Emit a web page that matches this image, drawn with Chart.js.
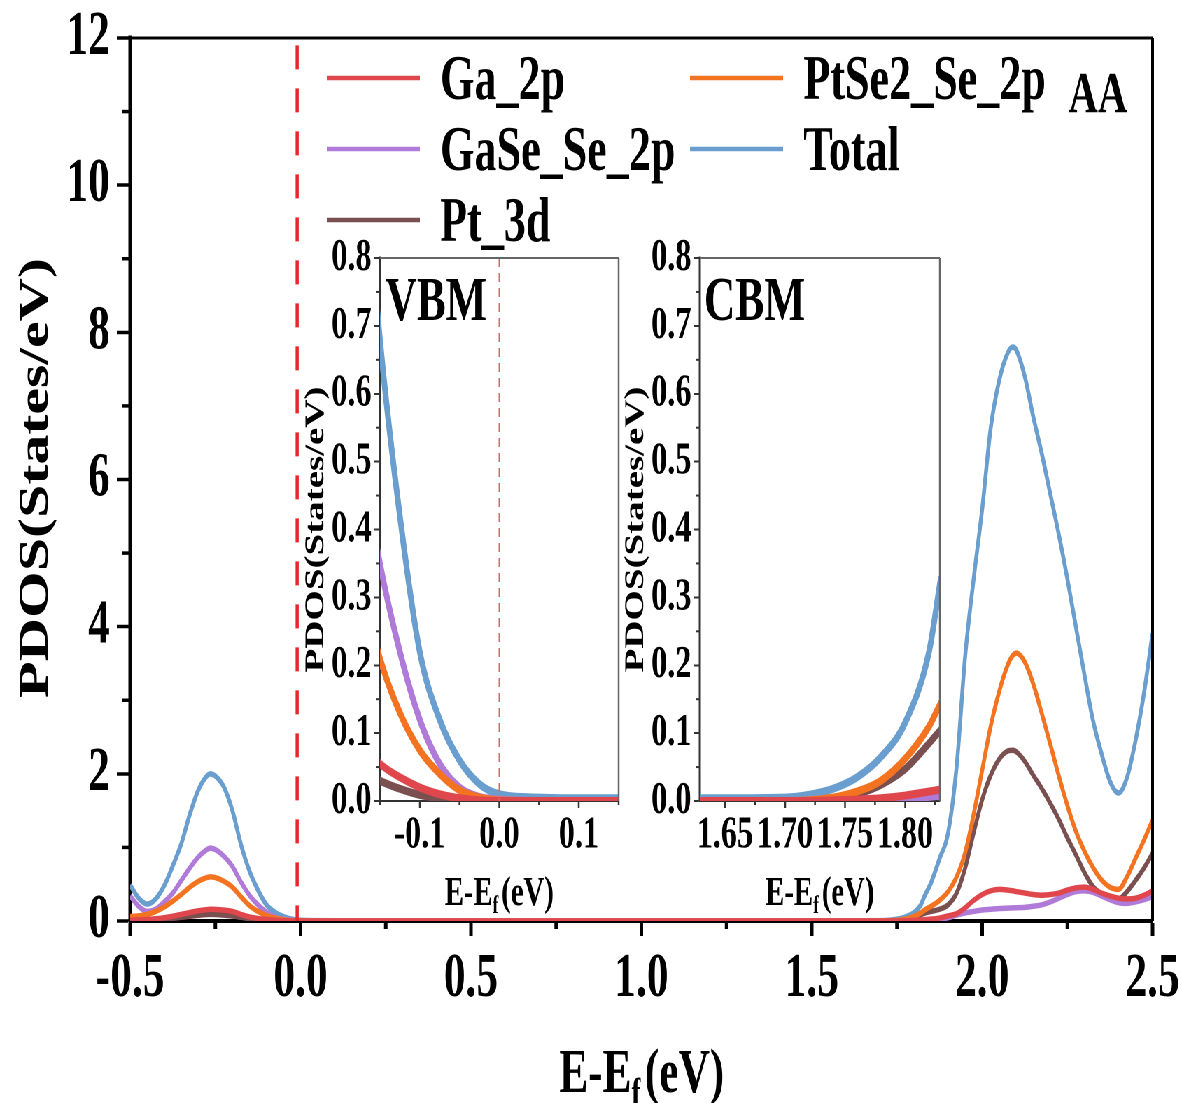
<!DOCTYPE html>
<html>
<head>
<meta charset="utf-8">
<title>PDOS AA</title>
<script src="https://cdn.jsdelivr.net/npm/chart.js@4.4.1/dist/chart.umd.min.js"></script>
<style>
html, body { margin: 0; padding: 0; background: #fff; overflow: hidden; width: 1182px; height: 1103px; }
/* the figure is drawn wide and squeezed horizontally, like the original */
#wrap { position: absolute; left: 0; top: 0; width: 1689px; height: 1103px; transform: scaleX(0.6998); transform-origin: 0 0; }
#wrap canvas { position: absolute; }
</style>
</head>
<body>
<div id="wrap">
  <canvas id="main" width="1689" height="1103" style="left:0;top:0"></canvas>
  <canvas id="vbm" width="520" height="700" style="left:390px;top:225px"></canvas>
  <canvas id="cbm" width="520" height="700" style="left:850px;top:225px"></canvas>
</div>
<script>
// energy grid (eV) and PDOS per orbital (States/eV)
var energy = [-0.5,-0.475,-0.45,-0.425,-0.4,-0.375,-0.35,-0.325,-0.3,-0.275,-0.265,-0.25,-0.225,-0.2,-0.175,-0.15,-0.125,-0.1,-0.075,-0.05,-0.025,0,0.05,0.1,0.15,0.5,1.0,1.5,1.65,1.7,1.72,1.74,1.76,1.78,1.8,1.82,1.83,1.85,1.875,1.9,1.925,1.95,1.975,2.0,2.025,2.05,2.075,2.09,2.1,2.125,2.15,2.175,2.2,2.225,2.25,2.275,2.3,2.325,2.35,2.375,2.4,2.425,2.45,2.475,2.5];

var ga2p = [0.01,0.014,0.02,0.03,0.045,0.065,0.09,0.115,0.14,0.155,
  0.16,0.158,0.148,0.13,0.09,0.055,0.035,0.02,0.01,0.004,
  0.001,0,0,0,0,0,0,0,0,0,
  0,0.001,0.002,0.004,0.008,0.014,0.017,0.025,0.04,0.07,
  0.1,0.18,0.28,0.36,0.41,0.43,0.42,0.41,0.4,0.38,
  0.36,0.35,0.36,0.38,0.42,0.45,0.46,0.43,0.38,0.34,
  0.31,0.3,0.31,0.35,0.41];

var ptse2Se2p = [0.06,0.07,0.09,0.13,0.19,0.27,0.36,0.46,0.54,0.59,
  0.6,0.59,0.54,0.46,0.33,0.21,0.13,0.075,0.04,0.016,
  0.005,0.001,0,0,0,0,0,0,0,0,
  0.001,0.005,0.014,0.03,0.062,0.11,0.145,0.2,0.28,0.4,
  0.6,0.93,1.45,2.05,2.65,3.12,3.48,3.61,3.64,3.52,
  3.22,2.82,2.4,1.97,1.57,1.22,0.95,0.73,0.56,0.46,
  0.43,0.6,0.85,1.1,1.37];

var gaseSe2p = [0.34,0.2,0.13,0.16,0.26,0.38,0.55,0.72,0.87,0.97,
  0.99,0.97,0.88,0.74,0.53,0.35,0.22,0.12,0.055,0.02,
  0.006,0.002,0,0,0,0,0,0,0,0,
  0,0,0,0.002,0.004,0.006,0.008,0.012,0.02,0.045,
  0.08,0.11,0.13,0.15,0.16,0.17,0.175,0.178,0.18,0.185,
  0.2,0.22,0.26,0.31,0.36,0.4,0.41,0.39,0.34,0.29,
  0.25,0.24,0.26,0.29,0.33];

var total = [0.49,0.31,0.23,0.30,0.48,0.75,1.05,1.45,1.78,1.97,
  2.0,1.97,1.82,1.50,1.04,0.68,0.42,0.22,0.12,0.06,
  0.025,0.01,0.005,0.004,0.004,0.004,0.004,0.004,0.004,0.005,
  0.009,0.018,0.035,0.065,0.115,0.22,0.33,0.52,0.85,1.2,
  2.1,3.6,4.65,5.6,6.7,7.35,7.72,7.8,7.76,7.4,
  6.85,6.35,5.8,5.25,4.65,4.0,3.35,2.73,2.28,1.9,
  1.74,1.95,2.45,3.1,3.91];

var pt3d = [0.005,0.007,0.01,0.016,0.025,0.036,0.05,0.065,0.078,0.088,
  0.09,0.088,0.08,0.068,0.05,0.03,0.018,0.009,0.004,0.001,
  0,0,0,0,0,0,0,0,0,0,
  0.001,0.003,0.01,0.024,0.047,0.085,0.105,0.13,0.16,0.22,
  0.38,0.72,1.2,1.65,1.98,2.2,2.31,2.32,2.3,2.17,
  1.98,1.8,1.6,1.38,1.13,0.9,0.66,0.47,0.37,0.31,
  0.3,0.4,0.55,0.72,0.92];

var labels = ['Ga_2p', 'PtSe2_Se_2p', 'GaSe_Se_2p', 'Total', 'Pt_3d'];
var colors = ['#E0474C', '#F47321', '#B07AD8', '#6A9ECF', '#7A4F50'];
var values = [ga2p, ptse2Se2p, gaseSe2p, total, pt3d];

// ticks
var mainXTicks = [-0.5, 0, 0.5, 1.0, 1.5, 2.0, 2.5];
var mainXMinor = [-0.25, 0.25, 0.75, 1.25, 1.75, 2.25];
var mainYTicks = [0, 2, 4, 6, 8, 10, 12];
var mainYMinor = [1, 3, 5, 7, 9, 11];
var insetYTicks = [0, 0.1, 0.2, 0.3, 0.4, 0.5, 0.6, 0.7, 0.8];
var insetYMinor = [0.05, 0.15, 0.25, 0.35, 0.45, 0.55, 0.65, 0.75];
var vbmXTicks = [-0.1, 0, 0.1];
var vbmXMinor = [-0.15, -0.05, 0.05, 0.15];
var cbmXTicks = [1.65, 1.70, 1.75, 1.80];
var cbmXMinor = [1.675, 1.725, 1.775, 1.825];

var mainFermi = -0.01;
var vbmFermi = 0;

var FONT = '"Liberation Serif", "Times New Roman", serif';
Chart.defaults.font.family = FONT;
Chart.defaults.font.weight = 'bold';
Chart.defaults.color = '#000';

function points(arr) {
  return energy.map(function (e, i) { return {x: e, y: arr[i]}; });
}

function datasets(width) {
  return labels.map(function (l, i) {
    return {label: l, data: points(values[i]), borderColor: colors[i], borderWidth: width,
      pointRadius: 0, fill: false, cubicInterpolationMode: 'monotone'};
  });
}

function seg(ctx, x1, y1, x2, y2) {
  ctx.beginPath(); ctx.moveTo(x1, y1); ctx.lineTo(x2, y2); ctx.stroke();
}

// E-E_f(eV) with subscript f
function drawEf(ctx, cx, by, size) {
  var big = 'bold ' + size + 'px ' + FONT;
  var small = 'bold ' + Math.round(size * 0.62) + 'px ' + FONT;
  ctx.font = big;
  var w1 = ctx.measureText('E-E').width, w3 = ctx.measureText('(eV)').width;
  ctx.font = small;
  var w2 = ctx.measureText('f').width;
  var gap = size * 0.1;
  var x0 = cx - (w1 + w2 + w3 + gap) / 2;
  ctx.textAlign = 'left'; ctx.textBaseline = 'alphabetic'; ctx.fillStyle = '#000';
  ctx.font = big; ctx.fillText('E-E', x0, by);
  ctx.font = small; ctx.fillText('f', x0 + w1, by + size * 0.2);
  ctx.font = big; ctx.fillText('(eV)', x0 + w1 + w2 + gap, by);
}

function drawYTitle(ctx, bx, cy, size) {
  ctx.save();
  ctx.translate(bx, cy);
  ctx.rotate(-Math.PI / 2);
  ctx.font = 'bold ' + size + 'px ' + FONT;
  ctx.textAlign = 'center'; ctx.textBaseline = 'alphabetic'; ctx.fillStyle = '#000';
  ctx.fillText('PDOS(States/eV)', 0, 0);
  ctx.restore();
}

var mainDeco = {
  id: 'mainDeco',
  afterDatasetsDraw: function (chart) {
    var ctx = chart.ctx, x = chart.scales.x, y = chart.scales.y;
    ctx.save();
    ctx.strokeStyle = '#E8262B'; ctx.lineWidth = 4.5; ctx.setLineDash([24, 19]);
    var px = x.getPixelForValue(mainFermi);
    seg(ctx, px, y.getPixelForValue(11.9), px, y.getPixelForValue(0));
    ctx.restore();
  },
  afterDraw: function (chart) {
    var ctx = chart.ctx, a = chart.chartArea, x = chart.scales.x, y = chart.scales.y;
    ctx.save();
    ctx.strokeStyle = '#000';
    ctx.lineWidth = 3; seg(ctx, a.left, a.top, a.right, a.top);
    ctx.lineWidth = 4; seg(ctx, a.right, a.top, a.right, a.bottom);
    ctx.lineWidth = 5;
    mainXMinor.forEach(function (v) { var p = x.getPixelForValue(v); seg(ctx, p, a.bottom, p, a.bottom + 8); });
    ctx.lineWidth = 3.5;
    mainYMinor.forEach(function (v) { var p = y.getPixelForValue(v); seg(ctx, a.left - 11, p, a.left, p); });

    // legend, two columns
    ctx.font = 'bold 63px ' + FONT;
    ctx.textAlign = 'left'; ctx.textBaseline = 'alphabetic';
    chart.data.datasets.forEach(function (ds, i) {
      var lx = 467 + (i % 2) * 519, ly = 78 + Math.floor(i / 2) * 71;
      ctx.strokeStyle = ds.borderColor; ctx.lineWidth = 4.5;
      seg(ctx, lx, ly, lx + 133, ly);
      ctx.fillStyle = '#000';
      ctx.fillText(ds.label, lx + 162, ly + 21);
    });
    ctx.font = 'bold 58px ' + FONT;
    ctx.fillText('AA', 1527, 112);

    drawYTitle(ctx, 68, 478, 60);
    drawEf(ctx, 917, 1092, 62);
    ctx.restore();
  }
};

new Chart(document.getElementById('main'), {
  type: 'line',
  data: {datasets: datasets(5.5)},
  options: {
    responsive: false, animation: false, devicePixelRatio: 2,
    layout: {padding: {top: 38, right: 42, left: 0, bottom: 0}},
    plugins: {legend: {display: false}, tooltip: {enabled: false}},
    scales: {
      x: {
        type: 'linear', min: -0.5, max: 2.5,
        afterFit: function (s) { s.height = 182; s.paddingLeft = 0; s.paddingRight = 0; },
        afterBuildTicks: function (s) { s.ticks = mainXTicks.map(function (v) { return {value: v}; }); },
        grid: {drawOnChartArea: false, tickLength: 15, tickWidth: 5, tickColor: '#000'},
        border: {color: '#000', width: 4},
        ticks: {padding: 7, autoSkip: false, maxRotation: 0, font: {size: 62},
          callback: function (v) { return v.toFixed(1); }}
      },
      y: {
        min: 0, max: 12,
        afterFit: function (s) { s.width = 186; s.paddingTop = 0; s.paddingBottom = 0; },
        afterBuildTicks: function (s) { s.ticks = mainYTicks.map(function (v) { return {value: v}; }); },
        grid: {drawOnChartArea: false, tickLength: 19, tickWidth: 3.5, tickColor: '#000'},
        border: {color: '#000', width: 5},
        ticks: {padding: 10, font: {size: 62}, callback: function (v) { return String(v); }}
      }
    }
  },
  plugins: [mainDeco]
});

function makeInset(id, xMin, xMax, xTicks, xMinor, digits, tag, tagDx, fermi, axisW, padRight) {
  var deco = {
    id: 'insetDeco',
    beforeDraw: function (chart) {
      var a = chart.chartArea, ctx = chart.ctx;
      ctx.save(); ctx.fillStyle = '#fff';
      ctx.fillRect(a.left, a.top, a.right - a.left, a.bottom - a.top);
      ctx.restore();
    },
    afterDatasetsDraw: function (chart) {
      if (fermi === null) return;
      var ctx = chart.ctx, x = chart.scales.x, y = chart.scales.y;
      ctx.save();
      ctx.strokeStyle = '#D46A6A'; ctx.lineWidth = 2; ctx.setLineDash([9, 6]);
      var px = x.getPixelForValue(fermi);
      seg(ctx, px, y.getPixelForValue(0.8), px, y.getPixelForValue(0));
      ctx.restore();
    },
    afterDraw: function (chart) {
      var ctx = chart.ctx, a = chart.chartArea, x = chart.scales.x, y = chart.scales.y;
      ctx.save();
      ctx.strokeStyle = '#666';
      ctx.lineWidth = 2; seg(ctx, a.left, a.top, a.right, a.top);
      ctx.lineWidth = 2.5; seg(ctx, a.right, a.top, a.right, a.bottom);
      ctx.strokeStyle = '#333';
      ctx.lineWidth = 2.5;
      xMinor.forEach(function (v) { var p = x.getPixelForValue(v); seg(ctx, p, a.bottom, p, a.bottom + 4); });
      ctx.lineWidth = 2;
      insetYMinor.forEach(function (v) { var p = y.getPixelForValue(v); seg(ctx, a.left - 6, p, a.left, p); });
      ctx.fillStyle = '#000';
      ctx.font = 'bold 62px ' + FONT;
      ctx.textAlign = 'left'; ctx.textBaseline = 'alphabetic';
      ctx.fillText(tag, a.left + tagDx, a.top + 62);
      drawYTitle(ctx, a.left - 81, (a.top + a.bottom) / 2, 39);
      drawEf(ctx, (a.left + a.right) / 2, a.bottom + 104, 41);
      ctx.restore();
    }
  };
  new Chart(document.getElementById(id), {
    type: 'line',
    data: {datasets: datasets(8)},
    options: {
      responsive: false, animation: false, devicePixelRatio: 2,
      layout: {padding: {top: 33, right: padRight, left: 0, bottom: 0}},
      plugins: {legend: {display: false}, tooltip: {enabled: false}},
      scales: {
        x: {
          type: 'linear', min: xMin, max: xMax,
          afterFit: function (s) { s.height = 124; s.paddingLeft = 0; s.paddingRight = 0; },
          afterBuildTicks: function (s) { s.ticks = xTicks.map(function (v) { return {value: v}; }); },
          grid: {drawOnChartArea: false, tickLength: 7, tickWidth: 2.5, tickColor: '#333'},
          border: {color: '#333', width: 2},
          ticks: {padding: 0, autoSkip: false, maxRotation: 0, font: {size: 46},
            callback: function (v) { return v.toFixed(digits); }}
        },
        y: {
          min: 0, max: 0.8,
          afterFit: function (s) { s.width = axisW; s.paddingTop = 0; s.paddingBottom = 0; },
          afterBuildTicks: function (s) { s.ticks = insetYTicks.map(function (v) { return {value: v}; }); },
          grid: {drawOnChartArea: false, tickLength: 9, tickWidth: 2, tickColor: '#333'},
          border: {color: '#333', width: 3},
          ticks: {padding: 3, font: {size: 46}, callback: function (v) { return v.toFixed(1); }}
        }
      }
    },
    plugins: [deco]
  });
}

makeInset('vbm', -0.15, 0.15, vbmXTicks, vbmXMinor, 1, 'VBM', 8, vbmFermi, 153, 26);
makeInset('cbm', 1.629, 1.829, cbmXTicks, cbmXMinor, 2, 'CBM', 6, null, 150, 27);
</script>
</body>
</html>
